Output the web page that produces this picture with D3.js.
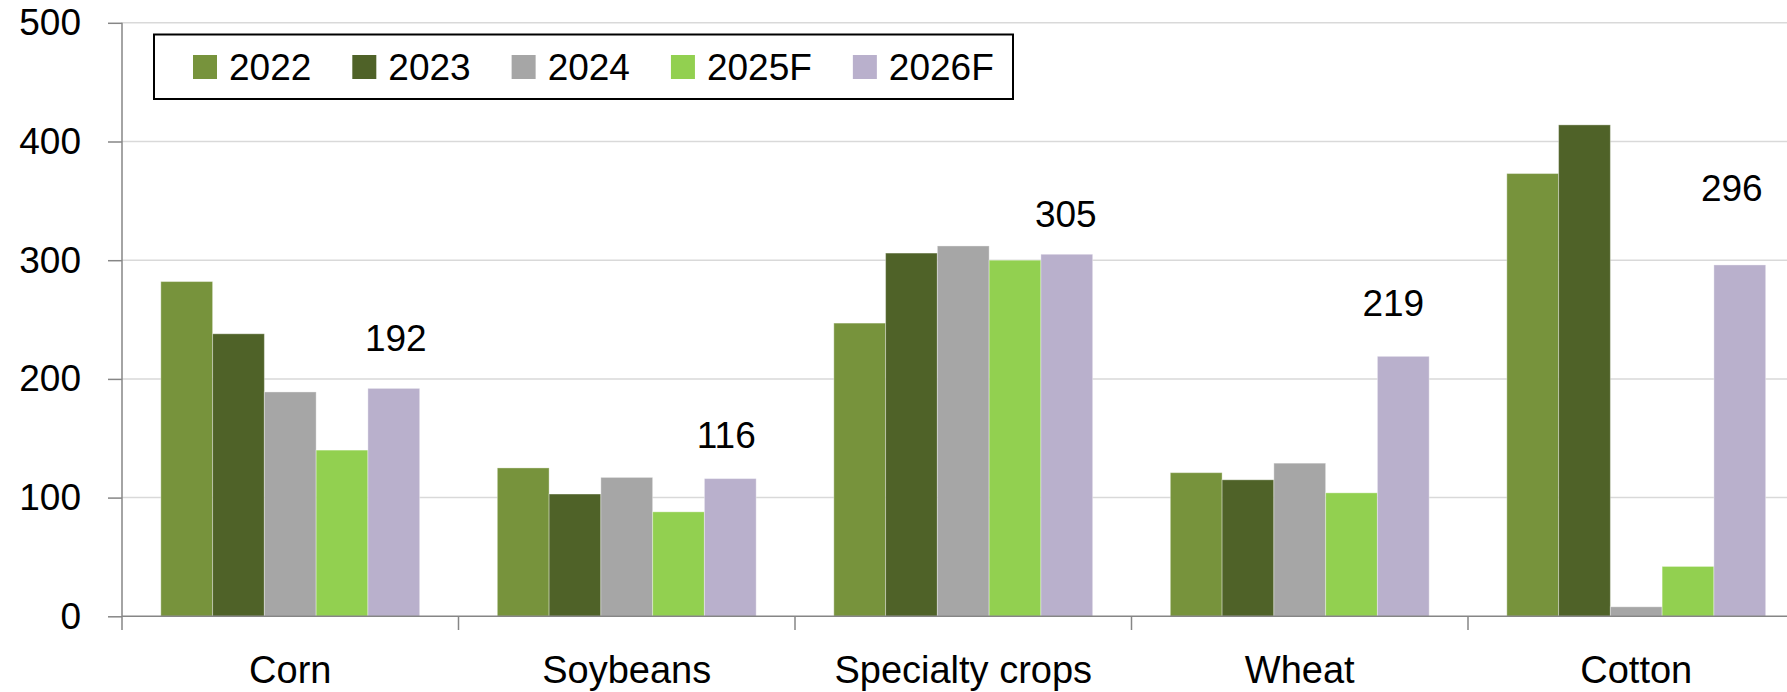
<!DOCTYPE html>
<html>
<head>
<meta charset="utf-8">
<script src="https://cdn.jsdelivr.net/npm/d3@7"></script>
<style>
  html, body { margin: 0; padding: 0; background: #fff; }
  svg { display: block; }
  text { font-family: "Liberation Sans", Arial, sans-serif; fill: #000; }
</style>
</head>
<body>
<svg id="chart" width="1787" height="692"></svg>
<script>
// ---- data ----
const categories = ["Corn", "Soybeans", "Specialty crops", "Wheat", "Cotton"];
const seriesNames = ["2022", "2023", "2024", "2025F", "2026F"];
const v2022  = [282, 125, 247, 121, 373];
const v2023  = [238, 103, 306, 115, 414];
const v2024  = [189, 117, 312, 129, 8];
const v2025F = [140, 88, 300, 104, 42];
const v2026F = [192, 116, 305, 219, 296];
const yTicks = [0, 100, 200, 300, 400, 500];
const labelValues = v2026F; // labelled series

// ---- layout / style ----
const colors = ["#77933C", "#4F6228", "#A6A6A6", "#92D050", "#B9B0CC"];
const labelLift = [37, 31, 27, 40, 64];   // px gap between label and bar top
const labelShift = [2, -4, -1, -10, -8];   // px horizontal nudge
const W = 1787, H = 692;
const x0Left = 122, x0Right = 1804.5;
const yBase = 616.3, yTop = 22.8;
const fontSize = 37;

const seriesData = [v2022, v2023, v2024, v2025F, v2026F];

const svg = d3.select("#chart");

const x0 = d3.scaleBand().domain(categories).range([x0Left, x0Right]).paddingInner(0).paddingOuter(0);
const x1 = d3.scaleBand().domain(seriesNames).range([0, x0.bandwidth()]).paddingInner(0).paddingOuter(0.75);
const y = d3.scaleLinear().domain([0, 500]).range([yBase, yTop]);

// gridlines
svg.append("g").selectAll("line").data(yTicks.filter(d => d > 0)).join("line")
  .attr("x1", x0Left).attr("x2", W)
  .attr("y1", d => y(d)).attr("y2", d => y(d))
  .attr("stroke", "#d9d9d9").attr("stroke-width", 1.5);

// bars
const gBars = svg.append("g");
seriesNames.forEach((s, si) => {
  gBars.append("g").selectAll("rect").data(seriesData[si]).join("rect")
    .attr("x", (d, i) => x0(categories[i]) + x1(s))
    .attr("width", x1.bandwidth())
    .attr("y", d => y(d))
    .attr("height", d => y(0) - y(d))
    .attr("fill", colors[si])
    .attr("stroke", "#ffffff").attr("stroke-opacity", 0.35).attr("stroke-width", 1);
});

// y axis
const yAxis = d3.axisLeft(y).tickValues(yTicks).tickSize(14).tickPadding(27).tickFormat(d3.format("d"));
const gy = svg.append("g").attr("transform", `translate(${x0Left},0)`).call(yAxis);
gy.select(".domain").remove();
gy.selectAll(".tick line").attr("stroke", "#868686").attr("stroke-width", 1.5);
gy.selectAll(".tick text").attr("font-size", fontSize).attr("font-family", "Liberation Sans, Arial, sans-serif").attr("fill", "#000");
svg.append("line").attr("x1", x0Left).attr("x2", x0Left).attr("y1", yTop).attr("y2", 630)
  .attr("stroke", "#868686").attr("stroke-width", 1.5);

// x axis
svg.append("line").attr("x1", x0Left).attr("x2", W).attr("y1", yBase).attr("y2", yBase)
  .attr("stroke", "#868686").attr("stroke-width", 1.5);
svg.append("g").selectAll("line").data(categories.slice(1)).join("line")
  .attr("x1", d => x0(d)).attr("x2", d => x0(d))
  .attr("y1", yBase).attr("y2", 630)
  .attr("stroke", "#868686").attr("stroke-width", 1.5);
svg.append("g").selectAll("text").data(categories).join("text")
  .attr("x", d => x0(d) + x0.bandwidth() / 2)
  .attr("y", 683)
  .attr("text-anchor", "middle")
  .attr("font-size", 38)
  .text(d => d);

// data labels for 2026F
svg.append("g").selectAll("text").data(labelValues).join("text")
  .attr("x", (d, i) => x0(categories[i]) + x1("2026F") + x1.bandwidth() / 2 + labelShift[i])
  .attr("y", (d, i) => y(d) - labelLift[i])
  .attr("text-anchor", "middle")
  .attr("font-size", fontSize)
  .text(d => d);

// legend
const lg = svg.append("g");
lg.append("rect").attr("x", 154).attr("y", 34.5).attr("width", 859).attr("height", 64.5)
  .attr("fill", "#fff").attr("stroke", "#000").attr("stroke-width", 2);
let lx = 193;
seriesNames.forEach((s, si) => {
  lg.append("rect").attr("x", lx).attr("y", 55).attr("width", 24).attr("height", 24).attr("fill", colors[si]);
  const t = lg.append("text").attr("x", lx + 36).attr("y", 80).attr("font-size", fontSize).text(s);
  const tw = t.node().getComputedTextLength();
  lx += 36 + tw + 41;
});
</script>
</body>
</html>
